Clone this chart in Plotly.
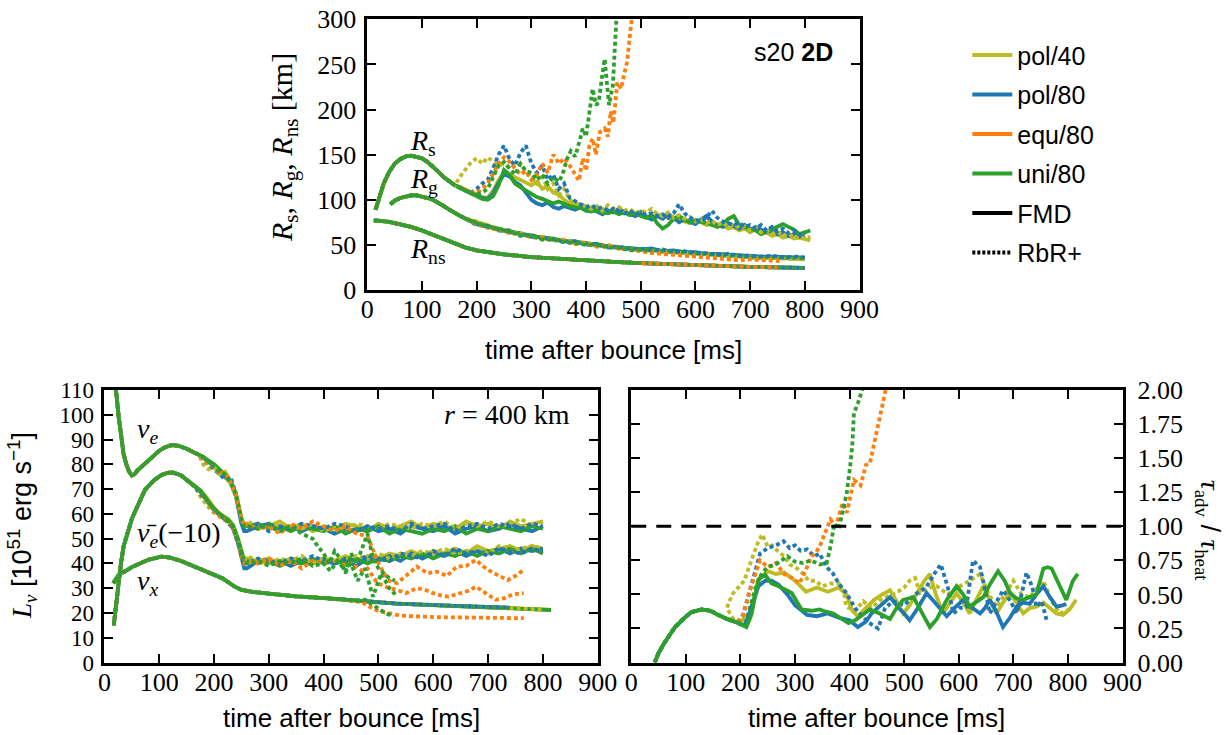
import plotly.graph_objects as go

# ---------------- colours / styles ----------------
C_P40 = "#bcbd22"
C_P80 = "#1f77b4"
C_E80 = "#ff7f0e"
C_U80 = "#2ca02c"
DOT = "4px,3px"
LW = 3.8
SERIF = "Liberation Serif"
SANS = "Liberation Sans"

# ================= TOP PANEL : radii [km] =================
RS_T_COMMON = [15, 20, 30, 40, 50, 60, 70, 80, 90, 100, 110, 120, 130, 140, 150, 160]
RS_V_COMMON = [89, 100, 118, 131, 140, 145, 148, 149, 148, 146, 142, 137, 131, 125, 120, 116]

RS_T_TAIL = list(range(170, 811, 10))
RS_U80_FMD = [113, 110, 107, 104, 101, 100, 104, 116, 133, 128,
              118, 114, 110, 106, 103, 101, 99, 96, 98, 95,
              93, 92, 91, 88, 87, 89, 86, 85, 87, 84,
              86, 83, 85, 82, 80, 83, 74, 68, 72, 79,
              82, 78, 75, 77, 76, 74, 72, 70, 73, 79,
              82, 72, 70, 68, 66, 62, 65, 67, 71, 73,
              70, 67, 62, 64, 66]
RS_P80_FMD = [113, 110, 108, 105, 102, 101, 107, 119, 128, 126,
              120, 116, 108, 100, 96, 94, 97, 92, 90, 93,
              91, 89, 92, 88, 90, 87, 84, 88, 86, 90,
              86, 84, 82, 86, 81, 78, 82, 79, 84, 80,
              75, 78, 76, 73, 78, 82, 76, 72, 70, 74,
              71, 68, 72, 66, 70, 67, 64, 66, 62, 64,
              60, 62, 59, 61]
RS_P40_FMD = [114, 111, 108, 105, 103, 102, 110, 122, 130, 128,
              125, 122, 118, 116, 120, 112, 115, 108, 106, 100,
              96, 94, 93, 90, 92, 88, 90, 86, 88, 85,
              87, 86, 84, 87, 82, 80, 84, 82, 80, 78,
              80, 76, 74, 78, 75, 72, 74, 70, 72, 68,
              70, 66, 68, 64, 67, 62, 64, 60, 62, 58,
              60, 57, 58, 56, 55]
RS_P40_RBR = [126, 134, 142, 146, 140, 147, 142, 138, 140, 135,
              138, 140, 130, 125, 118, 125, 112, 118, 105, 112,
              100, 96, 95, 92, 90, 93, 88, 94, 90, 92,
              88, 90, 85, 88, 86, 90, 84, 82, 86, 80,
              83, 79, 81, 76, 79, 74, 77, 72, 75, 70,
              73, 69, 71, 66, 69, 64, 66, 62, 65, 60,
              63, 58, 60, 57, 59]
RS_P80_RBR = [114, 110, 108, 112, 118, 122, 135, 150, 160, 145,
              138, 152, 160, 140, 130, 138, 122, 128, 112, 118,
              102, 98, 95, 92, 94, 90, 92, 88, 90, 87,
              85, 88, 84, 86, 83, 85, 82, 84, 80, 85,
              95, 85, 80, 78, 76, 80, 88, 80, 76, 74,
              72, 75, 70, 72, 68, 72, 66, 70, 65, 68,
              63, 66, 61, 63]
RS_T_E80_RBR = [170, 180, 190, 200, 210, 220, 230, 240, 250, 260,
                270, 280, 290, 300, 310, 320, 330, 340, 345, 350,
                360, 370, 380, 387, 394, 400, 406, 412, 418, 425,
                434, 440, 445, 450, 457, 464, 470, 475, 482, 490]
RS_E80_RBR = [114, 111, 108, 108, 112, 118, 130, 140, 147, 142,
              135, 128, 132, 122, 128, 140, 130, 150, 146, 140,
              146, 138, 128, 121, 146, 132, 160, 168, 150, 175,
              179, 170, 198, 185, 230, 223, 240, 253, 293, 330]
RS_T_U80_RBR = [170, 180, 190, 200, 210, 220, 230, 240, 250, 260,
                270, 280, 290, 300, 310, 320, 330, 340, 350, 357,
                365, 372, 380, 388, 394, 400, 405, 412, 418, 423,
                430, 434, 438, 442, 449, 453, 458]
RS_U80_RBR = [113, 110, 107, 106, 108, 112, 125, 138, 142, 135,
              128, 140, 132, 130, 122, 128, 118, 125, 120, 128,
              145, 154, 148, 165, 179, 170, 192, 223, 205, 208,
              240, 256, 230, 205, 227, 296, 330]

RG_T_COMMON = [42, 50, 60, 70, 80, 90, 100, 110, 120, 130, 140, 150, 160, 170, 180]
RG_V_COMMON = [95, 99, 102, 104, 105, 105, 104, 102, 100, 97, 93, 89, 85, 82, 79]
RG_T_TAIL = list(range(200, 801, 20))
RG_U80_FMD = [74, 71, 67, 65, 62, 60, 58, 57, 54, 54, 51, 51, 48, 47, 47, 46, 45, 44, 43, 42,
              41, 39, 38, 38, 38, 36, 36, 36, 36, 35, 35]
RG_P80_FMD = [73, 70, 68, 64, 63, 59, 59, 56, 55, 53, 52, 50, 49, 48, 46, 45, 46, 43, 44, 42,
              42, 40, 40, 39, 39, 38, 37, 37, 37, 36, 36]
RG_P40_FMD = [75, 72, 66, 66, 61, 61, 57, 56, 55, 52, 52, 49, 49, 46, 46, 44, 44, 42, 42, 41,
              40, 40, 39, 38, 37, 37, 36, 36, 35, 35, 34]
RG_P40_RBR = [76, 70, 69, 64, 63, 58, 59, 55, 56, 52, 53, 49, 50, 47, 45, 45, 43, 43, 41, 41,
              39, 40, 38, 38, 36, 37, 35, 36, 35, 34, 35]
RG_P80_RBR = [72, 71, 66, 66, 60, 61, 57, 57, 53, 54, 50, 51, 47, 48, 45, 46, 44, 45, 42, 43,
              41, 41, 39, 40, 38, 38, 37, 38, 36, 37, 36]
RG_E80_RBR = [73, 69, 67, 63, 62, 59, 58, 55, 55, 51, 52, 48, 49, 46, 45, 43, 41, 40, 38, 37,
              36, 35, 35, 34, 33, 34, 33, 33, 32]
RG_U80_RBR = [74, 70, 68, 64, 61, 60, 56, 56, 53, 52, 50, 50, 47, 47, 44, 45, 43]

RNS_T = [12, 20, 40, 60, 80, 100, 120, 140, 160, 180, 200, 220, 250, 300, 350, 400,
         450, 500, 550, 600, 650, 700, 750, 800, 820]
RNS_V = [77, 77, 75.5, 73, 70, 66, 61, 56, 51, 47, 44, 42, 39.5, 36.5, 34.5, 32.8,
         31.3, 29.8, 28.7, 27.2, 26.3, 25.6, 25, 24.4, 24.2]

# ================= BOTTOM LEFT : luminosities =================
NUE_T_COMMON = [19, 22, 26, 30, 35, 40, 45, 50, 55, 60, 70, 80, 90, 100, 110, 123, 135, 150, 165, 172]
NUE_V_COMMON = [112, 108, 99, 91, 84, 80, 77, 75.5, 76, 77.5, 79.5, 81.5, 83.5, 85.5, 86.8, 87.8, 87.5, 86.3, 84.6, 84]
NUE_T_TAIL = [180, 190, 200, 210, 220, 230, 240, 245, 250, 255] + list(range(260, 801, 20))
NUE_U80_FMD = [83, 81.5, 80, 78, 76, 73.5, 68, 63, 58, 55] + [55, 56, 54, 55, 53, 55, 54, 53, 55, 52,
               54, 53, 55, 52, 54, 53, 52, 54, 53, 55, 52, 54, 53, 55, 54, 53, 55, 54]
NUE_P80_FMD = [83, 81, 79.5, 77.5, 75.5, 73, 67, 61, 56, 53] + [53, 55, 56, 54, 55, 53, 55, 54, 52, 54,
               53, 55, 53, 54, 52, 55, 54, 53, 55, 52, 54, 55, 53, 54, 56, 54, 53, 55]
NUE_P40_FMD = [82.5, 81, 79, 77, 75, 72.5, 67.5, 62, 57, 55] + [56, 54, 55, 57, 54, 56, 53, 55, 54, 56,
               55, 53, 56, 54, 55, 57, 54, 56, 55, 54, 57, 55, 56, 54, 57, 55, 56, 57]
NUE_P40_RBR = [80, 78, 79, 76, 77, 72, 67, 62, 58, 56] + [57, 55, 54, 56, 55, 54, 56, 53, 55, 54,
               56, 55, 54, 56, 55, 54, 56, 55, 57, 54, 56, 55, 57, 55, 56, 58, 55, 57]
NUE_P80_RBR = [82, 80, 78, 76, 74, 75, 68, 62, 57, 54] + [54, 56, 53, 55, 54, 56, 55, 54, 56, 55,
               53, 55, 54, 55, 53, 56, 54, 55, 56, 53, 55, 56, 54, 56, 55, 54, 56, 55]
NUE_T_E80_RBR = [180, 190, 200, 210, 220, 230, 240, 245, 250, 255,
                 260, 280, 300, 320, 340, 360, 380, 400, 420, 440,
                 460, 480, 490, 500, 510, 520, 534, 550, 570, 590,
                 606, 625, 643, 660, 678, 690, 700, 720, 736, 750, 765]
NUE_E80_RBR = [82, 80, 79, 76, 77, 73, 68, 63, 58, 55,
               56, 54, 55, 52, 56, 54, 57, 55, 53, 55,
               52, 51, 45, 40, 36, 33, 32, 35, 38.7, 36,
               36.7, 35, 38.7, 39, 41.4, 39, 37.4, 35, 33.3, 35, 37.4]
NUE_T_U80_RBR = [180, 190, 200, 210, 220, 230, 240, 245, 250, 255,
                 260, 280, 300, 320, 340, 360, 380,
                 389, 400, 410, 420, 430, 440, 450, 460, 470, 480,
                 490, 500, 510, 520, 530]
NUE_U80_RBR = [83, 81, 79, 77, 76, 73, 68, 63, 58, 55,
               55, 54, 56, 53, 55, 52, 50,
               47, 44, 40, 45, 42, 36, 44, 40, 46, 52,
               42, 38, 36, 34, 33]

NUEB_T_COMMON = [17, 19, 21, 25, 30, 35, 43, 50, 60, 74, 90, 104, 115, 125, 140, 155, 165]
NUEB_V_COMMON = [15, 19, 24, 33, 40, 47, 53.5, 58, 63, 69.7, 73.5, 75.7, 76.5, 76.7, 75.5, 73, 71]
NUEB_T_TAIL = [175, 185, 196, 205, 215, 226, 235, 244, 250, 255] + list(range(260, 801, 20))
NUEB_U80_FMD = [69.5, 66.5, 63, 61, 59, 57.5, 55, 49.5, 44, 41] + [41, 40, 41, 39, 41, 40, 42, 40, 41, 40,
                42, 40, 42, 41, 43, 42, 44, 42, 44, 43, 45, 43, 45, 44, 46, 44, 46, 44]
NUEB_P80_FMD = [69, 66, 62.5, 60.5, 58.5, 57, 54, 48, 42, 38] + [38, 41, 40, 41, 39, 41, 40, 42, 40, 41,
                39, 42, 41, 43, 41, 44, 42, 44, 43, 45, 43, 45, 44, 46, 44, 46, 45, 46]
NUEB_P40_FMD = [69.5, 67, 63.5, 61, 59.5, 58, 55.5, 50, 45, 42] + [42, 41, 42, 40, 42, 41, 40, 42, 41, 43,
                41, 43, 42, 44, 43, 45, 43, 45, 44, 46, 44, 47, 45, 46, 47, 45, 47, 46]
NUEB_P40_RBR = [67, 64, 61, 60, 58, 57, 54, 49, 44, 41] + [43, 41, 40, 42, 41, 43, 40, 42, 41, 42,
                43, 42, 44, 42, 44, 43, 45, 44, 46, 44, 45, 46, 44, 47, 45, 46, 47, 46]
NUEB_P80_RBR = [68, 66, 62, 60, 59, 56, 54, 48, 43, 40] + [40, 42, 41, 40, 42, 41, 43, 41, 40, 42,
                41, 43, 42, 41, 44, 43, 42, 45, 43, 46, 44, 45, 43, 46, 45, 44, 46, 45]
NUEB_T_E80_RBR = [175, 185, 196, 205, 215, 226, 235, 244, 250, 255,
                  260, 280, 300, 320, 340, 360, 380, 400, 420, 440,
                  450, 470, 480, 498, 520, 534, 550, 570, 585, 600,
                  615, 628, 650, 665, 678, 695, 714, 730, 745, 765]
NUEB_E80_RBR = [69, 66, 62, 60, 58, 57, 54, 49, 43, 40,
                41, 40, 42, 39, 41, 38, 41, 40, 42, 39,
                40, 37, 38, 32, 30, 29.3, 28, 30, 29.3, 28,
                27, 26.6, 28, 29, 30.6, 28, 25.3, 26, 27.5, 28]
NUEB_T_U80_RBR = [175, 185, 196, 205, 215, 226, 235, 244, 250, 255,
                  260, 280, 300, 320, 340, 360, 380, 400, 412, 425,
                  440, 450, 462, 475, 490, 505, 520, 534]
NUEB_U80_RBR = [69, 66, 63, 61, 59, 57, 55, 49, 44, 41,
                40, 41, 39, 41, 40, 42, 39, 40, 37, 41,
                37, 40, 33, 38, 26.6, 36, 30, 26.6]

NUX_T = [16, 20, 25, 30, 37, 50, 60, 80, 104, 120, 140, 165, 190, 215, 238, 250, 270,
         300, 317, 350, 408, 462, 534, 600, 678, 740, 802, 815]
NUX_V = [32, 33.5, 35, 36, 36.7, 38.5, 39.5, 41.5, 42.7, 42.3, 41, 38.7, 36.5, 34, 30.6,
         29.3, 28.5, 27.8, 27.3, 26.7, 25.9, 24.9, 23.8, 23.2, 22.6, 22.1, 21.4, 21.2]
NUX_T_E80_RBR = [470, 484, 498, 510, 520, 534, 550, 570, 606, 650, 700, 740, 765]
NUX_E80_RBR = [24.4, 22.5, 21, 20.3, 19.8, 19.2, 18.8, 18.5, 18.3, 18.2, 18.1, 18, 17.9]
NUX_T_U80_RBR = [476, 490, 505, 515, 527]
NUX_U80_RBR = [25.3, 23, 21, 19.8, 18.5]

# ================= BOTTOM RIGHT : tau_adv / tau_heat =================
TAU_T_COMMON = [43, 50, 60, 68, 80, 98, 110, 129, 145, 159, 175, 190]
TAU_V_COMMON = [0.0, 0.07, 0.14, 0.19, 0.26, 0.33, 0.37, 0.39, 0.38, 0.35, 0.32, 0.30]

TAU_T_U80_FMD = [200, 211, 220, 233, 245, 257, 270, 285, 294, 312,
                 330, 345, 355, 370, 385, 398, 410, 425, 437, 455,
                 474, 486, 498, 517, 530, 547, 560, 578, 596, 608,
                 620, 632, 645, 658, 672, 684, 694, 706, 718, 730,
                 742, 755, 763, 770, 778, 785, 797, 809, 818]
TAU_U80_FMD = [0.28, 0.26, 0.35, 0.61, 0.645, 0.58, 0.56, 0.53, 0.51, 0.39,
               0.38, 0.39, 0.375, 0.36, 0.32, 0.29, 0.31, 0.35, 0.39, 0.36,
               0.32, 0.4, 0.46, 0.48, 0.38, 0.26, 0.32, 0.46, 0.56, 0.5,
               0.41, 0.44, 0.48, 0.58, 0.67, 0.6, 0.51, 0.47, 0.46, 0.48,
               0.5, 0.69, 0.7, 0.69, 0.62, 0.55, 0.46, 0.6, 0.65]
TAU_T_P80_FMD = [200, 210, 220, 233, 245, 257, 270, 286, 300, 322,
                 340, 360, 380, 400, 415, 430, 440, 455, 465, 474,
                 490, 500, 510, 525, 541, 560, 578, 592, 608, 622,
                 639, 648, 657, 668, 681, 694, 706, 718, 730, 742,
                 755, 767, 779, 790, 797]
TAU_P80_FMD = [0.28, 0.28, 0.4, 0.56, 0.6, 0.6, 0.57, 0.5, 0.42, 0.35,
               0.34, 0.36, 0.33, 0.31, 0.26, 0.3, 0.36, 0.41, 0.45, 0.48,
               0.4, 0.36, 0.31, 0.4, 0.51, 0.42, 0.34, 0.4, 0.46, 0.41,
               0.36, 0.4, 0.46, 0.38, 0.26, 0.33, 0.41, 0.44, 0.43, 0.5,
               0.56, 0.48, 0.41, 0.42, 0.43]
TAU_T_P40_FMD = [200, 215, 236, 250, 265, 280, 300, 320, 340, 360,
                 380, 394, 405, 415, 430, 445, 460, 474, 486, 498,
                 510, 525, 537, 547, 558, 571, 584, 596, 608, 620,
                 632, 645, 657, 669, 681, 694, 706, 718, 730, 742,
                 755, 767, 779, 791, 803, 815]
TAU_P40_FMD = [0.3, 0.35, 0.62, 0.67, 0.65, 0.66, 0.6, 0.52, 0.55, 0.52,
               0.55, 0.5, 0.38, 0.34, 0.4, 0.46, 0.5, 0.53, 0.45, 0.36,
               0.42, 0.52, 0.6, 0.65, 0.5, 0.36, 0.44, 0.51, 0.44, 0.36,
               0.46, 0.56, 0.46, 0.36, 0.44, 0.51, 0.44, 0.36, 0.4, 0.41,
               0.44, 0.4, 0.36, 0.35, 0.39, 0.46]
TAU_T_P40_RBR = [175, 185, 195, 207, 220, 232, 240, 250, 258, 265,
                 280, 290, 301, 315, 325, 337, 350, 365, 380, 390,
                 394, 410, 425, 440, 460, 480, 500, 510, 520, 529,
                 545, 560, 580, 602, 620, 639, 655, 669, 685, 700,
                 715, 730, 745, 755, 770, 785, 803]
TAU_P40_RBR = [0.4, 0.5, 0.55, 0.6, 0.75, 0.88, 0.94, 0.85, 0.86, 0.83,
               0.78, 0.72, 0.7, 0.65, 0.6, 0.6, 0.56, 0.58, 0.58, 0.5,
               0.41, 0.38, 0.45, 0.4, 0.47, 0.5, 0.55, 0.6, 0.62, 0.51,
               0.55, 0.56, 0.5, 0.56, 0.6, 0.65, 0.5, 0.41, 0.5, 0.6,
               0.5, 0.48, 0.55, 0.6, 0.45, 0.36, 0.39]
TAU_T_P80_RBR = [195, 205, 215, 225, 236, 250, 265, 279, 290, 300,
                 310, 322, 335, 345, 358, 370, 380, 394, 410, 425,
                 440, 452, 465, 480, 500, 520, 540, 555, 567, 580,
                 590, 602, 614, 626, 639, 650, 657, 670, 681, 695,
                 706, 715, 724, 735, 742, 752, 761]
TAU_P80_RBR = [0.3, 0.35, 0.5, 0.65, 0.8, 0.84, 0.86, 0.89, 0.84, 0.86,
               0.82, 0.83, 0.78, 0.8, 0.7, 0.65, 0.58, 0.51, 0.4, 0.33,
               0.28, 0.25, 0.4, 0.45, 0.42, 0.5, 0.55, 0.65, 0.72, 0.55,
               0.36, 0.4, 0.41, 0.75, 0.7, 0.5, 0.36, 0.45, 0.53, 0.45,
               0.36, 0.5, 0.66, 0.55, 0.41, 0.45, 0.31]
TAU_T_E80_RBR = [195, 205, 215, 225, 236, 250, 265, 280, 295, 308,
                 320, 330, 337, 345, 355, 365, 375, 387, 395, 408,
                 420, 430, 437, 445, 451, 458, 466, 472]
TAU_E80_RBR = [0.3, 0.35, 0.5, 0.62, 0.75, 0.7, 0.73, 0.65, 0.62, 0.58,
               0.68, 0.78, 0.8, 0.85, 0.95, 1.05, 1.0, 1.17, 1.1, 1.34,
               1.3, 1.45, 1.46, 1.6, 1.71, 1.85, 2.0, 2.1]
TAU_T_U80_RBR = [200, 210, 220, 230, 240, 250, 265, 286, 300, 315,
                 329, 345, 358, 365, 372, 380, 387, 395, 401, 405,
                 408, 415, 423, 428]
TAU_U80_RBR = [0.29, 0.3, 0.45, 0.58, 0.66, 0.7, 0.72, 0.78, 0.74, 0.73,
               0.75, 0.72, 0.73, 0.85, 1.02, 0.98, 1.1, 1.25, 1.44, 1.6,
               1.83, 1.9, 2.0, 2.1]

LEGEND_MODELS = ["pol/40", "pol/80", "equ/80", "uni/80"]
LEGEND_COLORS = [C_P40, C_P80, C_E80, C_U80]

# ---------------- helpers ----------------
fig = go.Figure()


def line(tx, ty, color, dotted, ax):
    fig.add_trace(go.Scatter(
        x=list(tx), y=list(ty), mode="lines",
        line=dict(color=color, width=LW, dash=DOT if dotted else "solid"),
        xaxis="x" + ax, yaxis="y" + ax, showlegend=False, hoverinfo="skip"))


def upto(t, v, tmax):
    return [a for a in t if a <= tmax], [b for a, b in zip(t, v) if a <= tmax]


def before(t, v, tmin):
    return [a for a in t if a < tmin], [b for a, b in zip(t, v) if a < tmin]


def draw_set(ax, tc, vc, series):
    for tt, vv, col, dot in series:
        line(list(tc) + list(tt), list(vc) + list(vv), col, dot, ax)


# ---------------- top panel ----------------
for col, dot, tend in [(C_P40, False, 815), (C_P80, False, 800), (C_U80, False, 818),
                       (C_P40, True, 810), (C_P80, True, 800), (C_E80, True, 770),
                       (C_U80, True, 530)]:
    tt, vv = upto(RNS_T, RNS_V, tend)
    line(tt, vv, col, dot, "")

draw_set("", RG_T_COMMON, RG_V_COMMON, [
    (RG_T_TAIL[:31], RG_P40_FMD, C_P40, False),
    (RG_T_TAIL[:31], RG_P80_FMD, C_P80, False),
    (RG_T_TAIL[:31], RG_U80_FMD, C_U80, False),
    (RG_T_TAIL[:31], RG_P40_RBR, C_P40, True),
    (RG_T_TAIL[:31], RG_P80_RBR, C_P80, True),
    (RG_T_TAIL[:len(RG_E80_RBR)], RG_E80_RBR, C_E80, True),
    (RG_T_TAIL[:len(RG_U80_RBR)], RG_U80_RBR, C_U80, True),
])

draw_set("", RS_T_COMMON, RS_V_COMMON, [
    (RS_T_TAIL[:len(RS_P40_FMD)], RS_P40_FMD, C_P40, False),
    (RS_T_TAIL[:len(RS_P80_FMD)], RS_P80_FMD, C_P80, False),
    (RS_T_TAIL[:len(RS_U80_FMD)], RS_U80_FMD, C_U80, False),
    (RS_T_TAIL[:len(RS_P40_RBR)], RS_P40_RBR, C_P40, True),
    (RS_T_TAIL[:len(RS_P80_RBR)], RS_P80_RBR, C_P80, True),
    (RS_T_E80_RBR, RS_E80_RBR, C_E80, True),
    (RS_T_U80_RBR, RS_U80_RBR, C_U80, True),
])

# ---------------- bottom left ----------------
for col, dot, tend in [(C_P40, False, 815), (C_P80, False, 800), (C_U80, False, 818),
                       (C_P40, True, 810), (C_P80, True, 800)]:
    tt, vv = upto(NUX_T, NUX_V, tend)
    line(tt, vv, col, dot, "2")
tt, vv = before(NUX_T, NUX_V, 470)
line(tt + NUX_T_E80_RBR, vv + NUX_E80_RBR, C_E80, True, "2")
tt, vv = before(NUX_T, NUX_V, 476)
line(tt + NUX_T_U80_RBR, vv + NUX_U80_RBR, C_U80, True, "2")

draw_set("2", NUEB_T_COMMON, NUEB_V_COMMON, [
    (NUEB_T_TAIL, NUEB_P40_FMD, C_P40, False),
    (NUEB_T_TAIL, NUEB_P80_FMD, C_P80, False),
    (NUEB_T_TAIL, NUEB_U80_FMD, C_U80, False),
    (NUEB_T_TAIL, NUEB_P40_RBR, C_P40, True),
    (NUEB_T_TAIL, NUEB_P80_RBR, C_P80, True),
    (NUEB_T_E80_RBR, NUEB_E80_RBR, C_E80, True),
    (NUEB_T_U80_RBR, NUEB_U80_RBR, C_U80, True),
])

draw_set("2", NUE_T_COMMON, NUE_V_COMMON, [
    (NUE_T_TAIL, NUE_P40_FMD, C_P40, False),
    (NUE_T_TAIL, NUE_P80_FMD, C_P80, False),
    (NUE_T_TAIL, NUE_U80_FMD, C_U80, False),
    (NUE_T_TAIL, NUE_P40_RBR, C_P40, True),
    (NUE_T_TAIL, NUE_P80_RBR, C_P80, True),
    (NUE_T_E80_RBR, NUE_E80_RBR, C_E80, True),
    (NUE_T_U80_RBR, NUE_U80_RBR, C_U80, True),
])

# ---------------- bottom right ----------------
draw_set("3", TAU_T_COMMON, TAU_V_COMMON, [
    (TAU_T_P40_FMD, TAU_P40_FMD, C_P40, False),
    (TAU_T_P40_RBR, TAU_P40_RBR, C_P40, True),
    (TAU_T_P80_RBR, TAU_P80_RBR, C_P80, True),
    (TAU_T_E80_RBR, TAU_E80_RBR, C_E80, True),
    (TAU_T_U80_RBR, TAU_U80_RBR, C_U80, True),
    (TAU_T_P80_FMD, TAU_P80_FMD, C_P80, False),
    (TAU_T_U80_FMD, TAU_U80_FMD, C_U80, False),
])

# ---------------- legend entries ----------------
for name, col in zip(LEGEND_MODELS, LEGEND_COLORS):
    fig.add_trace(go.Scatter(x=[None], y=[None], mode="lines", name=name,
                             line=dict(color=col, width=4), legendgroup=name))
fig.add_trace(go.Scatter(x=[None], y=[None], mode="lines", name="FMD",
                         line=dict(color="black", width=4), legendgroup="FMD"))
fig.add_trace(go.Scatter(x=[None], y=[None], mode="lines", name="RbR+",
                         line=dict(color="black", width=4, dash="3px,2px"), legendgroup="RbR"))

# ---------------- axes ----------------
def axis_style(size=26):
    return dict(showline=True, linewidth=2.6, linecolor="black", mirror="ticks",
                ticks="inside", ticklen=9, tickwidth=1.6, tickcolor="black",
                showgrid=False, zeroline=False, automargin=False,
                tickfont=dict(family=SERIF, size=size, color="black"))


fig.update_layout(
    template="none",
    width=1226, height=735,
    margin=dict(l=0, r=0, t=0, b=0, pad=0),
    paper_bgcolor="white", plot_bgcolor="white",
    xaxis=dict(domain=[0.2996, 0.7011], anchor="y", range=[0, 900], dtick=100,
               ticklabelstandoff=-6, **axis_style()),
    yaxis=dict(domain=[0.6054, 0.9737], anchor="x", range=[0, 300], dtick=50,
               ticklabelstandoff=3, **axis_style()),
    xaxis2=dict(domain=[0.0852, 0.4875], anchor="y2", range=[0, 900], dtick=100,
                ticklabelstandoff=-6, **axis_style()),
    yaxis2=dict(domain=[0.0986, 0.4694], anchor="x2", range=[0, 110], dtick=10,
                ticklabelstandoff=3, **axis_style(23)),
    xaxis3=dict(domain=[0.5149, 0.9156], anchor="y3", range=[0, 900], dtick=100,
                ticklabelstandoff=-6, **axis_style()),
    yaxis3=dict(domain=[0.0986, 0.4694], anchor="x3", range=[0, 2], dtick=0.25,
                tickformat=".2f", side="right", ticklabelstandoff=7, **axis_style()),
    legend=dict(x=0.789, y=0.956, xanchor="left", yanchor="top",
                bgcolor="rgba(0,0,0,0)", borderwidth=0,
                font=dict(family=SANS, size=25, color="black"),
                traceorder="grouped", tracegroupgap=4, itemwidth=40),
    showlegend=True,
)

fig.add_shape(type="line", xref="x3 domain", yref="y3", x0=0, x1=1, y0=1, y1=1,
              line=dict(color="black", width=3, dash="15px,10px"))

# ---------------- annotations ----------------
ann = []


def text(x, y, s, xref="paper", yref="paper", size=26, family=SANS, xanchor="center",
         yanchor="middle", angle=0):
    ann.append(dict(x=x, y=y, xref=xref, yref=yref, text=s, showarrow=False,
                    font=dict(family=family, size=size, color="black"),
                    xanchor=xanchor, yanchor=yanchor, textangle=angle))


text(0.5004, 1 - 350 / 735, "time after bounce [ms]")
text(0.2863, 1 - 718 / 735, "time after bounce [ms]")
text(0.7151, 1 - 718 / 735, "time after bounce [ms]")
text(284 / 1226, 1 - 148 / 735,
     "<i>R</i><sub>s</sub>, <i>R</i><sub>g</sub>, <i>R</i><sub>ns</sub> [km]",
     family=SERIF, size=30, angle=-90)
text(22 / 1226, 1 - 526 / 735,
     "<span style='font-family:Liberation Serif'><i>L<sub>ν</sub></i></span> [10<sup>51</sup> erg s<sup>−1</sup>]",
     size=27, angle=-90)
text(1208 / 1226, 1 - 530 / 735,
     "<span style='font-family:Liberation Serif'><i>τ</i><sub>adv</sub></span> / "
     "<span style='font-family:Liberation Serif'><i>τ</i><sub>heat</sub></span>",
     size=27, angle=90)
text(74, 163, "<i>R</i><sub>s</sub>", xref="x", yref="y", family=SERIF, size=28, xanchor="left")
text(74, 121, "<i>R</i><sub>g</sub>", xref="x", yref="y", family=SERIF, size=28, xanchor="left")
text(74, 44, "<i>R</i><sub>ns</sub>", xref="x", yref="y", family=SERIF, size=28, xanchor="left")
text(835 / 1226, 1 - 52 / 735, "s20 <b>2D</b>", size=25, xanchor="right")

text(56, 93.5, "<i>ν</i><sub><i>e</i></sub>", xref="x2", yref="y2", family=SERIF, size=28, xanchor="left")
text(56, 51.5, "<i>ν̄</i><sub><i>e</i></sub>(−10)", xref="x2", yref="y2", family=SERIF, size=28, xanchor="left")
text(56, 32.5, "<i>ν</i><sub><i>x</i></sub>", xref="x2", yref="y2", family=SERIF, size=28, xanchor="left")
text(572 / 1226, 1 - 415 / 735, "<i>r</i> = 400 km", family=SERIF, size=28, xanchor="right")

fig.update_layout(annotations=ann)

fig.write_html("out.html")
